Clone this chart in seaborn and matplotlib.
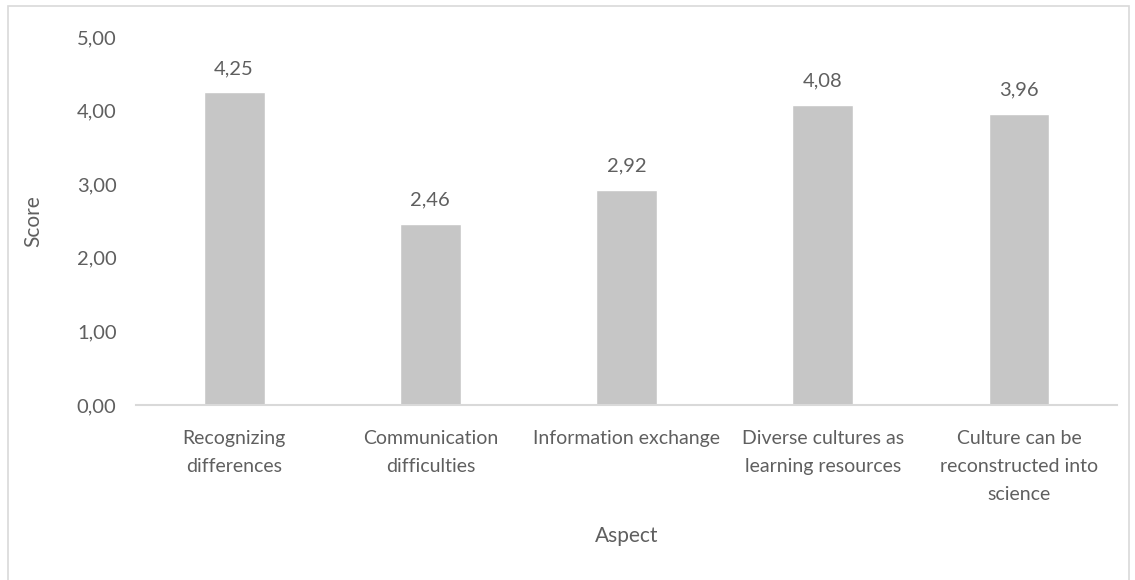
import matplotlib
matplotlib.use("Agg")
import matplotlib.pyplot as plt
import seaborn as sns
import pandas as pd
from matplotlib.patches import Rectangle

aspects = [
    "Recognizing\ndifferences",
    "Communication\ndifficulties",
    "Information exchange",
    "Diverse cultures as\nlearning resources",
    "Culture can be\nreconstructed into\nscience",
]
scores = [4.25, 2.46, 2.92, 4.08, 3.96]
y_ticks = [0, 1, 2, 3, 4, 5]

sns.set_theme(style="white")
plt.rcParams["font.family"] = ["Lato", "DejaVu Sans"]

text_color = "#5f5f5f"
bar_color = "#C6C6C6"

df = pd.DataFrame({"Aspect": aspects, "Score": scores})

fig = plt.figure(figsize=(11.35, 5.8), dpi=100)
ax = fig.add_axes([0.1198, 0.3017, 0.8645, 0.6345])

sns.barplot(data=df, x="Aspect", y="Score", color=bar_color, width=0.31,
            saturation=1, ax=ax)

ax.set_ylim(0, 5)
ax.set_yticks(y_ticks)
ax.set_yticklabels([f"{v:.2f}".replace(".", ",") for v in y_ticks],
                   color=text_color, fontsize=14.5)
ax.tick_params(axis="x", length=0, pad=18, colors=text_color, labelsize=14)
ax.tick_params(axis="y", length=0, pad=14)
for lbl in ax.get_xticklabels():
    lbl.set_linespacing(1.8)

for side in ["top", "right", "left"]:
    ax.spines[side].set_visible(False)
ax.spines["bottom"].set_color("#D9D9D9")
ax.spines["bottom"].set_linewidth(1.5)

ax.bar_label(ax.containers[0],
             labels=[f"{v:.2f}".replace(".", ",") for v in scores],
             padding=11, color=text_color, fontsize=14.5)

ax.set_xlabel("Aspect", color=text_color, fontsize=15, labelpad=16)
ax.set_ylabel("Score", color=text_color, fontsize=15, labelpad=24)

fig.patches.append(Rectangle((8 / 1135, -0.05), 1121 / 1135, 1 - 6 / 580 + 0.05,
                             transform=fig.transFigure, fill=False,
                             edgecolor="#D9D9D9", linewidth=1.2))

fig.savefig("out.png", dpi=100, facecolor="white")
